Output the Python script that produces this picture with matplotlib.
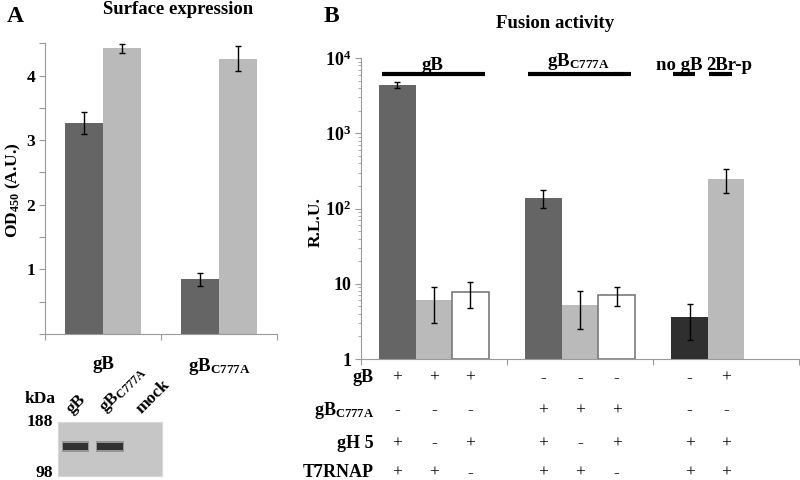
import matplotlib
matplotlib.use("Agg")
import matplotlib.pyplot as plt
import matplotlib.transforms as mtransforms
import numpy as np

# ---- data ----
# Panel A: surface expression (OD450)
surface_groups = ["gB", r"gB$_{\mathbf{C777A}}$"]
surface_dark = [3.26, 0.85]
surface_dark_err = [0.17, 0.10]
surface_light = [4.42, 4.26]
surface_light_err = [0.07, 0.19]

# western blot inset
blot_lanes = ["gB", r"gB$_{\mathbf{C777A}}$", "mock"]
blot_band = [1, 1, 0]
blot_markers = ["188", "98"]

# Panel B: fusion activity (R.L.U.)
fusion_headers = ["gB", r"gB$_{\mathbf{C777A}}$", "no gB", "2Br-p"]
gb_vals = [4400, 6.0, 7.7]
gb_err = [450, 3.0, 2.9]
c777a_vals = [140, 5.3, 7.0]
c777a_err = [38, 2.8, 2.0]
ctrl_vals = [3.6, 250]
ctrl_err = [1.8, 90]

table_rows = ["gB", r"gB$_{\mathbf{C777A}}$", "gH 5", "T7RNAP"]
table_gb =    ["+", "+", "+", "-", "-", "-", "-", "+"]
table_c777a = ["-", "-", "-", "+", "+", "+", "-", "-"]
table_gh5 =   ["+", "-", "+", "+", "-", "+", "+", "+"]
table_t7 =    ["+", "+", "-", "+", "+", "-", "+", "+"]

# ---- style ----
plt.rcParams["font.family"] = ["Liberation Serif", "DejaVu Serif"]
plt.rcParams["mathtext.fontset"] = "custom"
plt.rcParams["mathtext.rm"] = "Liberation Serif"
plt.rcParams["mathtext.it"] = "Liberation Serif:italic"
plt.rcParams["mathtext.bf"] = "Liberation Serif:bold"

DARK = "#656565"
LIGHT = "#bababa"
DARKEST = "#2f2f2f"
EDGE = "#7a7a7a"
AXIS = "#9a9a9a"

fig = plt.figure(figsize=(8, 4.8), dpi=100)

# ---------------- Panel A ----------------
axA = fig.add_axes([0.05625, 0.304, 0.29, 0.606])
bw = 0.33
xg = np.arange(len(surface_groups)) + 0.5
ekw = dict(ecolor="black", elinewidth=1, capsize=2.5, capthick=1)
axA.bar(xg - bw / 2, surface_dark, bw, color=DARK, yerr=surface_dark_err, error_kw=ekw)
axA.bar(xg + bw / 2, surface_light, bw, color=LIGHT, yerr=surface_light_err, error_kw=ekw)
axA.set_xlim(0, len(surface_groups))
axA.set_ylim(0, 4.5)
yt = np.arange(0, 4.51, 0.5)
axA.set_yticks(yt)
axA.set_yticklabels(["" if (v == 0 or v % 1) else str(int(v)) for v in yt],
                    fontsize=12.5, fontweight="bold")
axA.set_xticks(np.arange(len(surface_groups) + 1))
axA.set_xticklabels([])
axA.set_xticks(xg, surface_groups, minor=True, fontsize=13.5, fontweight="bold")
axA.tick_params(axis="x", which="minor", length=0, pad=16)
axA.tick_params(axis="both", which="major", color=AXIS, length=4, width=0.8)
axA.tick_params(axis="y", pad=3)
for s in ["top", "right"]:
    axA.spines[s].set_visible(False)
for s in ["left", "bottom"]:
    axA.spines[s].set_color(AXIS)
fig.text(13 / 800, 1 - 190 / 480, r"OD$_{\mathbf{450}}$ (A.U.)", rotation=90,
         ha="center", va="center", fontsize=12.5, fontweight="bold")
fig.text(178 / 800, 1 - 9 / 480, "Surface expression", ha="center", va="center",
         fontsize=13.5, fontweight="bold")
fig.text(0.008, 1 - 16 / 480, "A", fontsize=17, fontweight="bold", va="center")

# ---- blot inset ----
axW = fig.add_axes([0.0725, 0.008, 0.13, 0.1125])
axW.set_facecolor("#c6c6c6")
axW.set_xlim(-0.5, len(blot_lanes) - 0.5)
axW.set_ylim(0, 1)
lane_x = np.arange(len(blot_lanes))
for i, present in enumerate(blot_band):
    if present:
        axW.bar(lane_x[i], 0.20, bottom=0.45, width=0.78, color="#3a3a3a", alpha=0.35)
        axW.bar(lane_x[i], 0.13, bottom=0.485, width=0.74, color="#262626", alpha=0.9)
axW.set_xticks([])
axW.set_yticks([])
for s in axW.spines.values():
    s.set_color("#d8d8d8")
trW = mtransforms.blended_transform_factory(axW.transData, axW.transAxes)
for i, lab in enumerate(blot_lanes):
    axW.text(lane_x[i] - 0.02, 1.09, lab, rotation=45, rotation_mode="anchor",
             ha="left", va="bottom", fontsize=12.5, fontweight="bold", transform=trW)
axW.text(-0.05, 1.0, blot_markers[0], ha="right", va="center", fontsize=12.5,
         fontweight="bold", transform=axW.transAxes)
axW.text(-0.05, 0.06, blot_markers[1], ha="right", va="center", fontsize=12.5,
         fontweight="bold", transform=axW.transAxes)
axW.text(-0.02, 1.42, "kDa", ha="right", va="center", fontsize=12.5,
         fontweight="bold", transform=axW.transAxes)

# ---------------- Panel B ----------------
axB = fig.add_axes([0.451, 0.252, 0.548, 0.627])
bwB = 0.25
colors3 = [DARK, LIGHT, "white"]
ctrl_colors = [DARKEST, LIGHT]
bar_centers = []
for g, (vals, errs, cols) in enumerate([(gb_vals, gb_err, colors3),
                                        (c777a_vals, c777a_err, colors3),
                                        (ctrl_vals, ctrl_err, ctrl_colors)]):
    for k, (v, e, c) in enumerate(zip(vals, errs, cols)):
        xc = g + 0.25 + k * bwB
        bar_centers.append(xc)
        axB.bar(xc, v - 1, bwB, bottom=1, color=c,
                edgecolor=EDGE if c == "white" else c, linewidth=1.2 if c == "white" else 0,
                yerr=e, error_kw=ekw)
axB.set_yscale("log")
axB.set_ylim(1, 1e4)
axB.set_xlim(0, 3)
axB.set_yticks([1, 10, 100, 1000, 10000])
axB.set_yticklabels(["1", "10", r"$\mathbf{10^{2}}$", r"$\mathbf{10^{3}}$", r"$\mathbf{10^{4}}$"],
                    fontsize=13, fontweight="bold")
axB.set_xticks([0, 1, 2, 3])
axB.set_xticklabels([])
axB.tick_params(axis="both", which="major", color=AXIS, length=4, width=0.8)
axB.tick_params(axis="y", which="minor", color=AXIS, length=2.5, width=0.6)
axB.tick_params(axis="y", pad=3)
for s in ["top", "right"]:
    axB.spines[s].set_visible(False)
for s in ["left", "bottom"]:
    axB.spines[s].set_color(AXIS)
fig.text(316 / 800, 1 - 222 / 480, "R.L.U.", rotation=90, ha="center", va="center",
         fontsize=12.5, fontweight="bold")
fig.text(555 / 800, 1 - 23 / 480, "Fusion activity", ha="center", va="center",
         fontsize=13.5, fontweight="bold")
fig.text(0.405, 1 - 16 / 480, "B", fontsize=17, fontweight="bold", va="center")

trB = mtransforms.blended_transform_factory(axB.transData, axB.transAxes)
# group header lines and labels
header_spans = [(0.145, 0.85), (1.145, 1.85), (2.135, 2.29), (2.385, 2.54)]
header_text_x = [0.49, 1.49, 2.18, 2.52]
header_text_y = [0.977, 0.99, 0.977, 0.977]
for lab, (x0, x1), tx, ty in zip(fusion_headers, header_spans, header_text_x, header_text_y):
    axB.plot([x0, x1], [0.947, 0.947], color="black", lw=3, transform=trB, clip_on=False,
             solid_capstyle="butt")
    axB.text(tx, ty, lab, ha="center", va="center", fontsize=13.5, fontweight="bold",
             transform=trB)

# condition table
row_y = [-0.062, -0.17, -0.28, -0.378]
for lab, vals, yy in zip(table_rows, [table_gb, table_c777a, table_gh5, table_t7], row_y):
    axB.text(0.089, yy, lab, ha="right", va="center", fontsize=13, fontweight="bold",
             transform=trB)
    for xc, sym in zip(bar_centers, vals):
        axB.text(xc, yy, sym, ha="center", va="center", fontsize=12.5, transform=trB)

fig.savefig("out.png", dpi=100)
